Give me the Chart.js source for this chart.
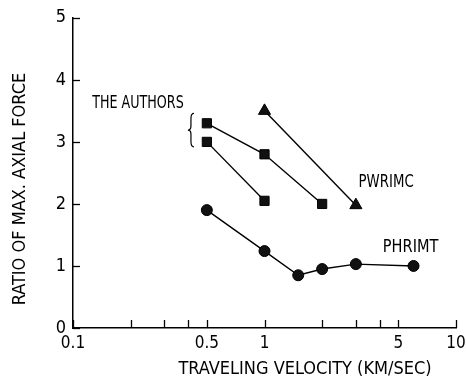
<!DOCTYPE html>
<html>
<head>
<meta charset="utf-8">
<script src="https://cdn.jsdelivr.net/npm/chart.js@4/dist/chart.umd.min.js"></script>
<style>
  html, body { margin: 0; padding: 0; background: #fff; }
  #wrap { width: 466px; height: 382px; }
</style>
</head>
<body>
<div id="wrap"><canvas id="grafico"></canvas></div>
<script>
// datos
var authorsAX = [0.5, 1, 2];
var authorsAY = [3.3, 2.8, 2.0];
var authorsBX = [0.5, 1];
var authorsBY = [3.0, 2.05];
var pwrimcX = [1, 3];
var pwrimcY = [3.5, 1.98];
var phrimtX = [0.5, 1, 1.5, 2, 3, 6];
var phrimtY = [1.9, 1.24, 0.85, 0.95, 1.03, 1.0];

var xTicks = [0.1, 0.2, 0.3, 0.4, 0.5, 1, 2, 3, 4, 5, 10];
var xLabels = [0.1, 0.5, 1, 5, 10];
var yTicks = [0, 1, 2, 3, 4, 5];

var FONT = "'Liberation Sans Narrow', 'DejaVu Sans Condensed', sans-serif";

function pares(xs, ys) {
    return xs.map(function (x, i) { return { x: x, y: ys[i] }; });
}

function serie(xs, ys, estilo, radio) {
    return {
        data: pares(xs, ys),
        borderColor: '#000',
        backgroundColor: '#000',
        borderWidth: 1.4,
        pointStyle: estilo,
        pointRadius: radio,
        pointBorderWidth: 1,
        pointBorderColor: '#000',
        pointBackgroundColor: '#111',
        tension: 0,
        fill: false
    };
}

function textoAngosto(ctx, txt, x, y, sx) { //texto comprimido a lo ancho
    ctx.save();
    ctx.translate(x, y);
    ctx.scale(sx, 1);
    ctx.fillText(txt, 0, 0);
    ctx.restore();
}

var anotaciones = { //textos dentro del grafico
    id: 'anotaciones',
    afterDraw: function (chart) {
        var ctx = chart.ctx;
        var xs = chart.scales.x, ys = chart.scales.y;
        ctx.save();
        ctx.strokeStyle = '#000';
        ctx.lineWidth = 1.3;
        // marcas hacia dentro
        xTicks.forEach(function (v) {
            var px = Math.round(xs.getPixelForValue(v)) + 0.5;
            ctx.beginPath();
            ctx.moveTo(px, ys.bottom);
            ctx.lineTo(px, ys.bottom - 8);
            ctx.stroke();
        });
        yTicks.forEach(function (v) {
            var py = Math.round(ys.getPixelForValue(v)) + 0.5;
            ctx.beginPath();
            ctx.moveTo(xs.left, py);
            ctx.lineTo(xs.left + 7, py);
            ctx.stroke();
        });

        ctx.fillStyle = '#000';
        ctx.font = '17px ' + FONT;
        ctx.textBaseline = 'middle';
        ctx.textAlign = 'left';
        textoAngosto(ctx, 'THE AUTHORS', xs.getPixelForValue(0.126), ys.getPixelForValue(3.62), 0.83);
        textoAngosto(ctx, 'PWRIMC', xs.getPixelForValue(3.1), ys.getPixelForValue(2.34), 0.87);
        textoAngosto(ctx, 'PHRIMT', xs.getPixelForValue(4.15), ys.getPixelForValue(1.3), 0.95);

        // llave
        var bx = xs.getPixelForValue(0.413), by1 = ys.getPixelForValue(3.46), by2 = ys.getPixelForValue(2.92);
        var bm = (by1 + by2) / 2;
        ctx.lineWidth = 1.2;
        ctx.beginPath();
        ctx.moveTo(bx + 3, by1);
        ctx.quadraticCurveTo(bx, by1, bx, by1 + 5);
        ctx.lineTo(bx, bm - 4);
        ctx.quadraticCurveTo(bx, bm, bx - 3, bm);
        ctx.quadraticCurveTo(bx, bm, bx, bm + 4);
        ctx.lineTo(bx, by2 - 5);
        ctx.quadraticCurveTo(bx, by2, bx + 3, by2);
        ctx.stroke();

        // titulos de ejes
        ctx.font = '18px ' + FONT;
        ctx.textAlign = 'center';
        ctx.fillText('TRAVELING VELOCITY (KM/SEC)', 305, 369);
        ctx.translate(20, 189);
        ctx.rotate(-Math.PI / 2);
        ctx.fillText('RATIO OF MAX. AXIAL FORCE', 0, 0);
        ctx.restore();
    }
};

var grafico = new Chart(document.getElementById('grafico'), {
    type: 'line',
    data: {
        datasets: [
            serie(authorsAX, authorsAY, 'rect', 6.5),
            serie(authorsBX, authorsBY, 'rect', 6.5),
            serie(pwrimcX, pwrimcY, 'triangle', 7),
            serie(phrimtX, phrimtY, 'circle', 5.5)
        ]
    },
    options: {
        responsive: true,
        maintainAspectRatio: false,
        animation: false,
        layout: { padding: { top: 16, right: 10, left: 0, bottom: 0 } },
        plugins: { legend: { display: false }, tooltip: { enabled: false } },
        scales: {
            x: {
                type: 'logarithmic',
                min: 0.1,
                max: 10,
                grid: { display: false, drawTicks: false },
                border: { display: true, color: '#000', width: 1.5 },
                afterBuildTicks: function (scale) {
                    scale.ticks = xTicks.map(function (v) { return { value: v }; });
                },
                afterFit: function (scale) {
                    scale.height = 54;
                    scale.paddingLeft = 0;
                    scale.paddingRight = 0;
                },
                ticks: {
                    autoSkip: false,
                    maxRotation: 0,
                    padding: 5,
                    color: '#000',
                    font: { size: 17, family: FONT },
                    callback: function (v) {
                        return xLabels.indexOf(v) >= 0 ? String(v) : '';
                    }
                }
            },
            y: {
                min: 0,
                max: 5,
                grid: { display: false, drawTicks: false },
                border: { display: true, color: '#000', width: 1.5 },
                afterFit: function (scale) { scale.width = 73; },
                ticks: {
                    stepSize: 1,
                    padding: 7,
                    color: '#000',
                    font: { size: 18, family: FONT }
                }
            }
        }
    },
    plugins: [anotaciones]
});
</script>
</body>
</html>
